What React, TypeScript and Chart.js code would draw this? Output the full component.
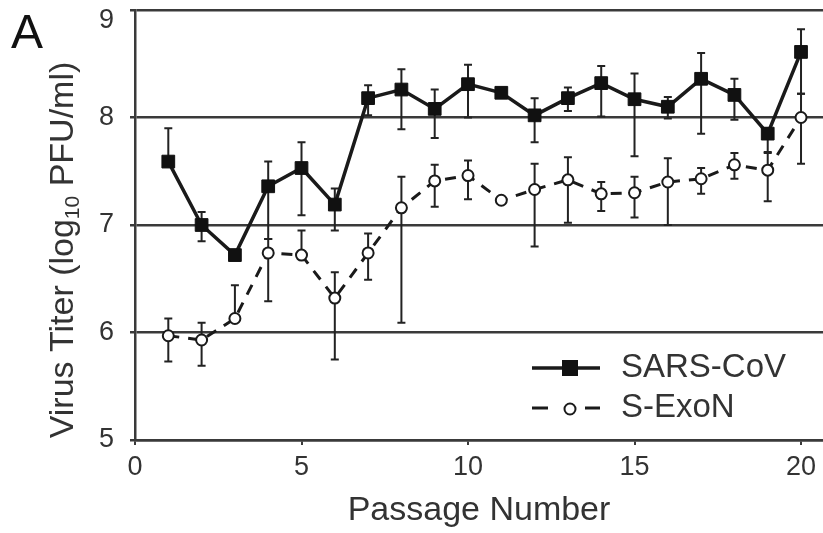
import React, { useEffect, useRef } from "react";
import { Chart, registerables } from "chart.js";

Chart.register(...registerables);

// ---- data ----
const passages = [1, 2, 3, 4, 5, 6, 7, 8, 9, 10, 11, 12, 13, 14, 15, 16, 17, 18, 19, 20];

const sarsMean = [7.59, 7.0, 6.72, 7.36, 7.53, 7.19, 8.18, 8.26, 8.08, 8.31, 8.23, 8.02, 8.18, 8.32, 8.17, 8.1, 8.36, 8.21, 7.85, 8.61];
const sarsHigh = [7.9, 7.12, 6.77, 7.59, 7.77, 7.34, 8.3, 8.45, 8.26, 8.49, 8.25, 8.18, 8.28, 8.48, 8.41, 8.19, 8.6, 8.36, 7.9, 8.82];
const sarsLow = [7.59, 6.85, 6.68, 6.87, 7.09, 6.95, 8.02, 7.89, 7.81, 8.0, 8.21, 7.77, 8.06, 8.01, 7.64, 7.99, 7.85, 7.98, 7.68, 8.22];

const exonMean = [5.97, 5.93, 6.13, 6.74, 6.72, 6.32, 6.74, 7.16, 7.41, 7.46, 7.23, 7.33, 7.42, 7.29, 7.3, 7.4, 7.43, 7.56, 7.51, 8.0];
const exonHigh = [6.13, 6.09, 6.44, 6.87, 6.95, 6.56, 6.92, 7.45, 7.56, 7.6, 7.25, 7.57, 7.63, 7.4, 7.45, 7.62, 7.53, 7.67, 7.67, 8.22];
const exonLow = [5.73, 5.69, 6.1, 6.29, 6.72, 5.75, 6.49, 6.09, 7.17, 7.24, 7.21, 6.8, 7.02, 7.13, 7.07, 7.0, 7.29, 7.43, 7.22, 7.57];

const seriesNames = ["SARS-CoV", "S-ExoN"];
const xTickValues = [0, 5, 10, 15, 20];
const yTickValues = [5, 6, 7, 8, 9];
const xTitle = "Passage Number";
const yTitleParts = ["Virus Titer (log", "10", " PFU/ml)"];
const panelLabel = "A";

const FONT = "'Liberation Sans', Arial, Helvetica, sans-serif";
const INK = "#1a1a1a";
const TEXT = "#333333";
const GRID = "#3a3a3a";

const errorBarPlugin = {
  id: "errorBars",
  beforeDatasetsDraw(chart: any) {
    const { ctx } = chart;
    const xs = chart.scales.x;
    const ys = chart.scales.y;
    const sets = [
      [sarsHigh, sarsLow],
      [exonHigh, exonLow],
    ];
    ctx.save();
    ctx.strokeStyle = "#222";
    ctx.lineWidth = 2;
    sets.forEach(([hi, lo]) => {
      passages.forEach((p, i) => {
        const x = xs.getPixelForValue(p);
        const y1 = ys.getPixelForValue(hi[i]);
        const y2 = ys.getPixelForValue(lo[i]);
        if (Math.abs(y2 - y1) < 1) return;
        ctx.beginPath();
        ctx.moveTo(x, y1);
        ctx.lineTo(x, y2);
        ctx.moveTo(x - 4, y1);
        ctx.lineTo(x + 4, y1);
        ctx.moveTo(x - 4, y2);
        ctx.lineTo(x + 4, y2);
        ctx.stroke();
      });
    });
    ctx.restore();
  },
};

const annotationPlugin = {
  id: "annotations",
  afterDraw(chart: any) {
    const { ctx } = chart;
    const ys = chart.scales.y;
    ctx.save();
    // Panel label
    ctx.fillStyle = "#111";
    ctx.font = `48px ${FONT}`;
    ctx.textAlign = "left";
    ctx.textBaseline = "alphabetic";
    ctx.fillText(panelLabel, 11, 48);

    // Y tick labels (top one kept inside the picture)
    ctx.font = `27px ${FONT}`;
    ctx.fillStyle = TEXT;
    ctx.textAlign = "right";
    ctx.textBaseline = "middle";
    yTickValues.forEach((v) => {
      const y = Math.max(ys.getPixelForValue(v), 21);
      ctx.fillText(String(v), 114, y);
    });
    ctx.textAlign = "left";
    ctx.textBaseline = "alphabetic";

    // Y title with subscript
    const big = `34px ${FONT}`;
    const small = `21px ${FONT}`;
    ctx.font = big;
    const w0 = ctx.measureText(yTitleParts[0]).width;
    const w2 = ctx.measureText(yTitleParts[2]).width;
    ctx.font = small;
    const w1 = ctx.measureText(yTitleParts[1]).width;
    const total = w0 + w1 + w2;
    const cx = 73;
    const cy = 250;
    ctx.translate(cx, cy);
    ctx.rotate(-Math.PI / 2);
    ctx.fillStyle = TEXT;
    let pos = -total / 2;
    ctx.font = big;
    ctx.fillText(yTitleParts[0], pos, 0);
    pos += w0;
    ctx.font = small;
    ctx.fillText(yTitleParts[1], pos, 6);
    pos += w1;
    ctx.font = big;
    ctx.fillText(yTitleParts[2], pos, 0);
    ctx.setTransform(1, 0, 0, 1, 0, 0);

    // Legend
    const lx0 = 532;
    const lx1 = 600;
    const mx = 570;
    const ly1 = 368;
    const ly2 = 408;
    ctx.strokeStyle = INK;
    ctx.lineWidth = 3.5;
    ctx.beginPath();
    ctx.moveTo(lx0, ly1);
    ctx.lineTo(lx1, ly1);
    ctx.stroke();
    ctx.fillStyle = "#111";
    ctx.fillRect(mx - 8, ly1 - 8, 16, 16);

    ctx.lineWidth = 3;
    ctx.beginPath();
    ctx.moveTo(lx0, ly2);
    ctx.lineTo(lx0 + 16, ly2);
    ctx.moveTo(lx1 - 15, ly2);
    ctx.lineTo(lx1, ly2);
    ctx.stroke();
    ctx.lineWidth = 2;
    ctx.fillStyle = "#fff";
    ctx.beginPath();
    ctx.arc(mx, ly2 + 1, 5.5, 0, Math.PI * 2);
    ctx.fill();
    ctx.stroke();

    ctx.fillStyle = TEXT;
    ctx.font = `33px ${FONT}`;
    ctx.textBaseline = "middle";
    ctx.fillText(seriesNames[0], 621, ly1);
    ctx.fillText(seriesNames[1], 621, ly2);
    ctx.restore();
  },
};

export default function App() {
  const ref = useRef<HTMLCanvasElement | null>(null);

  useEffect(() => {
    if (!ref.current) return;
    const chart = new Chart(ref.current, {
      type: "line",
      data: {
        datasets: [
          {
            label: seriesNames[0],
            data: passages.map((p, i) => ({ x: p, y: sarsMean[i] })),
            borderColor: INK,
            borderWidth: 3.5,
            pointStyle: "rect",
            pointRadius: 9,
            pointBackgroundColor: "#111",
            pointBorderColor: "#111",
            pointBorderWidth: 1,
            tension: 0,
            fill: false,
          },
          {
            label: seriesNames[1],
            data: passages.map((p, i) => ({ x: p, y: exonMean[i] })),
            borderColor: INK,
            borderWidth: 3,
            borderDash: [11, 9],
            pointStyle: "circle",
            pointRadius: 5.5,
            pointBackgroundColor: "#fff",
            pointBorderColor: INK,
            pointBorderWidth: 2,
            tension: 0,
            fill: false,
          },
        ],
      },
      options: {
        animation: false,
        responsive: true,
        maintainAspectRatio: false,
        layout: { autoPadding: false, padding: { top: 10, right: 0, left: 0, bottom: 0 } },
        plugins: {
          legend: { display: false },
          tooltip: { enabled: false },
        },
        scales: {
          x: {
            type: "linear",
            min: 0,
            max: 20.66,
            afterFit: (s: any) => {
              s.height = 93;
              s.paddingLeft = 0;
              s.paddingRight = 0;
            },
            afterBuildTicks: (s: any) => {
              s.ticks = xTickValues.map((v) => ({ value: v }));
            },
            ticks: {
              font: { family: FONT, size: 27 },
              color: TEXT,
              padding: 6,
              maxRotation: 0,
              autoSkip: false,
            },
            grid: {
              drawOnChartArea: false,
              drawTicks: true,
              tickLength: 5,
              color: GRID,
              lineWidth: 2,
            },
            border: { color: GRID, width: 2.5 },
            title: {
              display: true,
              text: xTitle,
              font: { family: FONT, size: 34 },
              color: TEXT,
              padding: { top: 0, bottom: 2 },
            },
          },
          y: {
            type: "linear",
            min: 5,
            max: 9,
            afterFit: (s: any) => {
              s.width = 135;
              s.paddingTop = 0;
              s.paddingBottom = 0;
            },
            afterBuildTicks: (s: any) => {
              s.ticks = yTickValues.map((v) => ({ value: v }));
            },
            ticks: {
              display: false,
            },
            grid: {
              color: GRID,
              lineWidth: 2.5,
              tickLength: 5,
            },
            border: { color: GRID, width: 2.5 },
          },
        },
      },
      plugins: [errorBarPlugin, annotationPlugin],
    });
    return () => chart.destroy();
  }, []);

  return (
    <div
      style={{
        position: "fixed",
        left: 0,
        top: 0,
        width: 823,
        height: 533,
        background: "#fff",
      }}
    >
      <canvas ref={ref} />
    </div>
  );
}
